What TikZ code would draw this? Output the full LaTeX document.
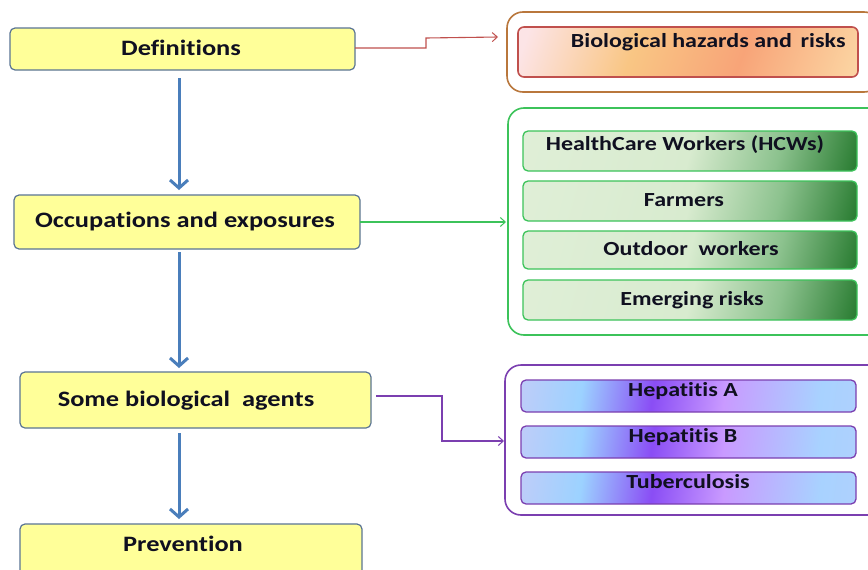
\documentclass[tikz,border=0pt]{standalone}
\usepackage{fontspec}
\setmainfont{Carlito}
\newfontfamily\wfont[FakeStretch=1.2,Ligatures=NoCommon]{Carlito}
\usetikzlibrary{arrows.meta}
\definecolor{lyellow}{HTML}{FFFF99}
\definecolor{lborder}{HTML}{5A7494}
\definecolor{flowblue}{HTML}{4A7EBB}
\definecolor{redline}{HTML}{C0504D}
\definecolor{brownline}{HTML}{B9773C}
\definecolor{greenline}{HTML}{3CC35A}
\definecolor{purpline}{HTML}{7B3FB0}
\definecolor{txtc}{HTML}{101020}
\definecolor{pA}{HTML}{C4CCF8}
\definecolor{pB}{HTML}{9CD2FF}
\definecolor{pC}{HTML}{8A4DF5}
\definecolor{pD}{HTML}{C99AFF}
\definecolor{pE}{HTML}{A8D2FF}
\definecolor{gA}{HTML}{E4F1DC}
\definecolor{gB}{HTML}{D8EBCF}
\definecolor{gC}{HTML}{8CC28E}
\definecolor{gD}{HTML}{2C7E34}
\definecolor{rA}{HTML}{FCE4E6}
\definecolor{rB}{HTML}{FBC9B8}
\definecolor{rC}{HTML}{F9C684}
\definecolor{rD}{HTML}{F8A478}
\definecolor{rE}{HTML}{FBD2A0}
\definecolor{rF}{HTML}{FDEBDD}
\pgfdeclarehorizontalshading{redsh}{100bp}{color(0bp)=(rA); color(20bp)=(rA); color(40bp)=(rC); color(60bp)=(rD); color(80bp)=(rE); color(100bp)=(rF)}
\pgfdeclarehorizontalshading{greensh}{100bp}{color(0bp)=(gA); color(50bp)=(gB); color(66bp)=(gC); color(80bp)=(gD); color(100bp)=(gD)}
\pgfdeclarehorizontalshading{purpsh}{100bp}{color(0bp)=(pA); color(20bp)=(pA); color(32bp)=(pB); color(44bp)=(pC); color(56bp)=(pD); color(72bp)=(pE); color(100bp)=(pA)}
\tikzset{
  x=1pt,y=-1pt,
  lbox/.style={draw=lborder,line width=1.2pt,fill=lyellow,rounded corners=5pt},
  ltext/.style={font=\wfont\bfseries\fontsize{22}{26}\selectfont,text=txtc},
  rtext/.style={font=\wfont\bfseries\fontsize{20}{24}\selectfont,text=txtc},
  flow/.style={draw=flowblue,line width=3pt,-{Straight Barb[length=8pt,width=18pt,line width=3pt]}},
  conn/.style={line width=1.1pt,-{Straight Barb[length=5pt,width=9pt,line width=1pt]}},
  outerbox/.style={line width=1.6pt,rounded corners=16pt},
  gbox/.style={draw=greenline,line width=1.3pt,rounded corners=5pt,shading=greensh,shading angle=-15},
  pbox/.style={draw=purpline,line width=1.3pt,rounded corners=5pt,shading=purpsh,shading angle=-8},
}
\begin{document}
\begin{tikzpicture}
\useasboundingbox (0,0) rectangle (868,570);
\fill[white] (0,0) rectangle (868,570);
% left boxes
\draw[lbox] (10,28) rectangle (355,70);
\node[ltext] (def) at (181,48) {Definitions};
\coordinate (defR) at (355,48);
\coordinate (defB) at (179,78);
\draw[lbox] (14,195) rectangle (360,249);
\node[ltext] (occ) at (185,222) {Occupations and exposures};
\coordinate (occR) at (360,222);
\coordinate (occT) at (179,190);
\coordinate (occB) at (179,252);
\draw[lbox] (20,372) rectangle (371,428);
\node[ltext] (agt) at (186,401) {Some biological\ \ agents};
\coordinate (agtR) at (376,396);
\coordinate (agtT) at (179,368);
\coordinate (agtB) at (179,433);
\draw[lbox] (20,524) rectangle (362,580);
\node[ltext] (prev) at (183,544) {Prevention};
\coordinate (prevT) at (179,519);
% flow arrows
\draw[flow] (defB) -- (occT);
\draw[flow] (occB) -- (agtT);
\draw[flow] (agtB) -- (prevT);
% red group
\draw[outerbox,draw=brownline] (507,12) rectangle (880,92);
\coordinate (redIn) at (498,37);
\draw[line width=1.6pt,draw=redline,rounded corners=6pt,shading=redsh,shading angle=-20] (518,27) rectangle (858,77);
\node[rtext,anchor=east] (bio) at (849,42) {Biological hazards and\,\ risks};
\draw[conn,draw=redline] (defR) -- (426,48) -- (426,38) -- (redIn);
% green group
\draw[outerbox,draw=greenline] (508,108) rectangle (885,335);
\coordinate (greenIn) at (506,222);
\draw[gbox] (523,131) rectangle (857,171);
\node[rtext] (hcw) at (685,145) {HealthCare Workers (HCWs)};
\draw[gbox] (523,181) rectangle (857,221);
\node[rtext] (farm) at (684,200) {Farmers};
\draw[gbox] (523,231) rectangle (857,269);
\node[rtext] (out) at (691,249) {Outdoor\ \ workers};
\draw[gbox] (523,280) rectangle (857,320);
\node[rtext] (emerg) at (692,300) {Emerging risks};
\draw[conn,draw=greenline] (occR) -- (greenIn);
% purple group
\draw[outerbox,draw=purpline] (505,365) rectangle (885,515);
\coordinate (purpIn) at (504,441);
\draw[pbox] (521,380) rectangle (856,412);
\node[rtext] (hepa) at (683,391) {Hepatitis A};
\draw[pbox] (521,426) rectangle (856,458);
\node[rtext] (hepb) at (683,437) {Hepatitis B};
\draw[pbox] (521,472) rectangle (856,504);
\node[rtext] (tub) at (688,482) {Tuberculosis};
\draw[conn,draw=purpline] (agtR) -- (442,396) -- (442,441) -- (purpIn);
\end{tikzpicture}
\end{document}
